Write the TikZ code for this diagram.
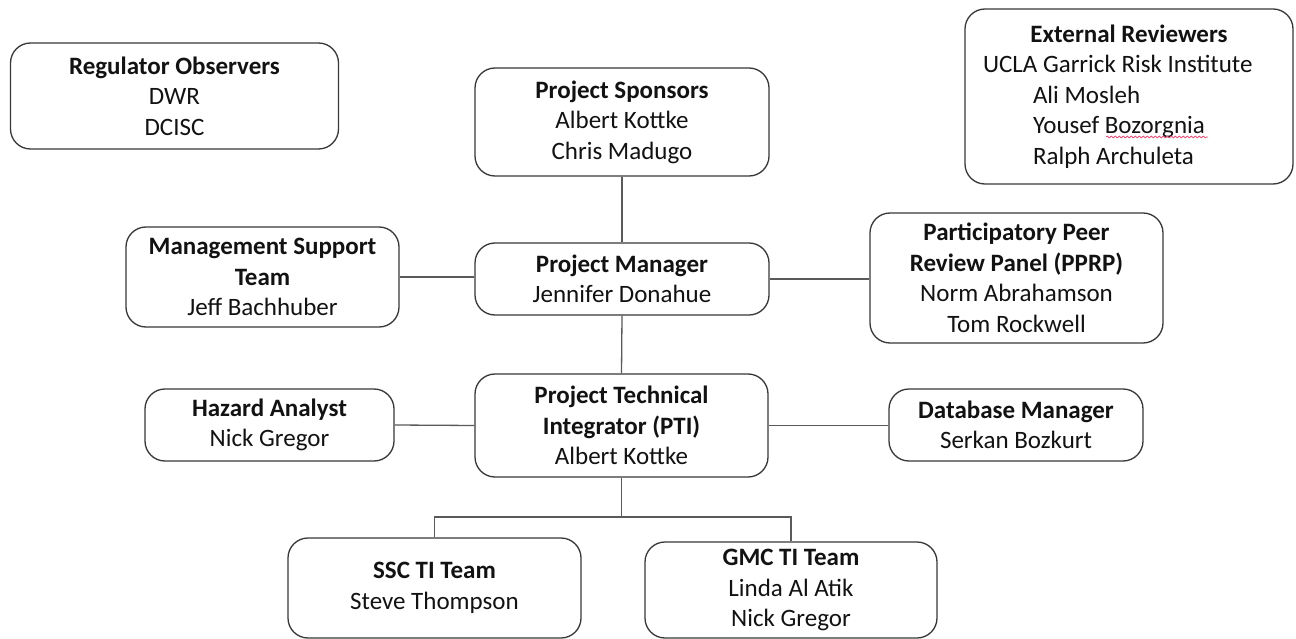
\documentclass[tikz,border=0pt]{standalone}
\usepackage{fontspec}
\setmainfont{Carlito}
\usetikzlibrary{decorations.pathmorphing}

\definecolor{boxline}{HTML}{383838}
\definecolor{linkline}{HTML}{5A5A5A}
\definecolor{ink}{HTML}{121212}
\definecolor{spellred}{HTML}{E0507A}

\begin{document}
\begin{tikzpicture}[x=1pt,y=-1pt,
  unit/.style={draw=boxline, line width=1.3pt, rounded corners=20pt, fill=white,
    align=center, text=ink, inner sep=0pt,
    font=\fontsize{25}{30.5}\selectfont},
  link/.style={draw=linkline, line width=1.3pt}]
\useasboundingbox (0,0) rectangle (1296,639);
\fill[white] (0,0) rectangle (1296,639);

% top row
\node[unit, minimum width=328pt, minimum height=106pt] (reg) at (174.5,96)
  {\textbf{Regulator Observers}\\DWR\\DCISC};
\node[unit, minimum width=294pt, minimum height=108pt] (spons) at (622,122)
  {\textbf{Project Sponsors}\\Albert Kottke\\Chris Madugo};
\node[unit, minimum width=328pt, minimum height=175pt, text width=292pt, align=flush left] (ext) at (1129,96.5)
  {\makebox[292pt]{\textbf{External Reviewers}}\\
   UCLA Garrick Risk Institute\\
   \hspace*{50pt}Ali Mosleh\\
   \hspace*{50pt}Yousef Bozorgnia\\
   \hspace*{50pt}Ralph Archuleta};

% management row
\node[unit, minimum width=273pt, minimum height=100pt] (mst) at (262.5,277)
  {\textbf{Management Support}\\\textbf{Team}\\Jeff Bachhuber};
\node[unit, minimum width=294pt, minimum height=72pt] (pm) at (622,279)
  {\textbf{Project Manager}\\Jennifer Donahue};
\node[unit, minimum width=293pt, minimum height=130pt] (pprp) at (1016.5,278)
  {\textbf{Participatory Peer}\\\textbf{Review Panel (PPRP)}\\Norm Abrahamson\\Tom Rockwell};

% technical row
\node[unit, minimum width=249pt, minimum height=72pt] (haz) at (269.5,425)
  {\textbf{Hazard Analyst}\\Nick Gregor};
\node[unit, minimum width=293pt, minimum height=103pt] (pti) at (621.5,425.5)
  {\textbf{Project Technical}\\\textbf{Integrator (PTI)}\\Albert Kottke};
\node[unit, minimum width=254pt, minimum height=72pt] (db) at (1016,425)
  {\textbf{Database Manager}\\Serkan Bozkurt};

% teams
\node[unit, minimum width=293pt, minimum height=100pt] (ssc) at (434.5,588)
  {\textbf{SSC TI Team}\\Steve Thompson};
\node[unit, minimum width=292pt, minimum height=96pt] (gmc) at (791,590)
  {\textbf{GMC TI Team}\\Linda Al Atik\\Nick Gregor};

% connectors
\draw[link] (spons.south) -- (pm.north);
\draw[link] (mst.east) -- (mst.east -| pm.west);
\draw[link] (pm.east) -- (pm.east -| pprp.west);
\draw[link] (pm.south) -- (pti.north);
\draw[link] (haz.east) -- (pti.west);
\draw[link] (pti.east) -- (pti.east -| db.west);
\coordinate (split) at (621.5,517);
\draw[link] (pti.south) -- (split);
\draw[link] (ssc.north) -- (ssc.north |- split) -- (gmc.north |- split) -- (gmc.north);

% spell-check wave under the surname
\coordinate (waveL) at (1106,137);
\coordinate (waveR) at (1208,137);
\draw[spellred, line width=0.8pt, decorate,
  decoration={snake, amplitude=0.9pt, segment length=4pt}] (waveL) -- (waveR);
\end{tikzpicture}
\end{document}
